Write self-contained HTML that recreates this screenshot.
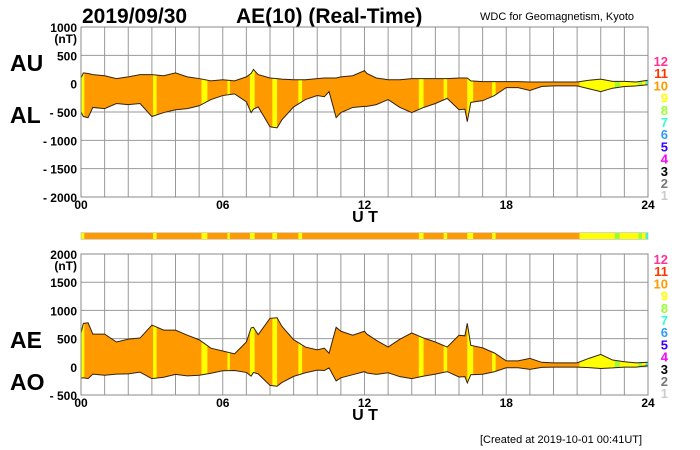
<!DOCTYPE html>
<html><head><meta charset="utf-8"><style>
html,body{margin:0;padding:0;background:#fff}
svg{display:block;font-family:"Liberation Sans",sans-serif}
.b{font-weight:bold}
</style></head><body>
<svg id="c" width="700" height="450" viewBox="0 0 700 450">
<text x="82" y="23" class="b" font-size="21">2019/09/30</text>
<text x="236" y="23" class="b" font-size="21">AE(10) (Real-Time)</text>
<text x="480" y="20" font-size="11">WDC for Geomagnetism, Kyoto</text>
<text x="10" y="71" class="b" font-size="23">AU</text>
<text x="10" y="123" class="b" font-size="23">AL</text>
<text x="10" y="348" class="b" font-size="23">AE</text>
<text x="10" y="390" class="b" font-size="23">AO</text>
<text x="480" y="443" font-size="11">[Created at 2019-10-01 00:41UT]</text>
<g id="g"></g>
</svg>
<script>
const T=[0,0.1,0.3,0.5,1,1.5,2,2.5,3,3.5,4,4.5,5,5.5,6,6.5,7,7.2,7.3,7.5,8,8.3,8.5,9,9.5,10,10.3,10.5,10.8,11,11.5,12,12.1,12.5,13,13.5,14,14.5,15,15.5,16,16.25,16.35,16.5,17,17.5,18,18.5,19,19.5,20,20.5,21,21.5,22,22.5,23,23.5,24];
const AU=[100,190,180,160,140,90,120,160,160,140,190,120,90,50,70,50,120,180,250,160,100,90,80,70,70,90,100,100,100,120,140,230,180,100,70,70,90,90,90,90,100,100,100,50,35,35,35,35,30,30,30,30,30,60,80,40,40,30,60];
const AL=[-500,-580,-600,-420,-440,-350,-370,-350,-580,-510,-460,-440,-390,-280,-210,-180,-320,-510,-450,-410,-760,-780,-640,-410,-280,-210,-230,-140,-600,-510,-420,-400,-400,-370,-280,-420,-510,-420,-350,-260,-460,-450,-670,-330,-300,-210,-70,-70,-120,-50,-40,-40,-40,-90,-140,-80,-50,-40,-20];
const SEG_START=[0,0,3.05,5.1,6.2,7.15,8.1,9.2,14.3,15.35,16.35,17.4,21.1,22.6,22.8,23.6,23.75,23.9];
const SEG_END=[24,0.14,3.2,5.35,6.3,7.35,8.3,9.36,14.5,15.5,16.6,17.55,22.6,22.8,23.6,23.75,23.9,24];
const SEG_N=[10,9,9,9,9,9,9,9,9,9,9,9,9,8,9,8,9,7];
const COL={12:"#ff3399",11:"#ff3300",10:"#ff9900",9:"#ffff00",8:"#99ff33",7:"#33ffcc",6:"#3399ff",5:"#3300ff",4:"#ff00ff",3:"#000000",2:"#777777",1:"#cccccc"};
const XT=["00","06","12","18","24"];
const NS="http://www.w3.org/2000/svg";
const g=document.getElementById('g');
const X0=81,X1=648;
const xs=h=>X0+(X1-X0)*h/24;
function mk(t,a,txt){const e=document.createElementNS(NS,t);for(const k in a)e.setAttribute(k,a[k]);if(txt!=null)e.textContent=txt;g.appendChild(e);return e;}
const AE=AU.map((u,i)=>u-AL[i]);
const AO=AU.map((u,i)=>(u+AL[i])/2);
function panel(id,top,bot,vmax,vmin,ticks,up,lo,barY){
  const ys=v=>top+(vmax-v)*(bot-top)/(vmax-vmin);
  for(let h=0;h<=24;h++){const l=mk('line',{x1:xs(h),x2:xs(h),y1:top,y2:bot,stroke:'#999','stroke-width':1});
    }
  ticks.forEach(v=>{const l=mk('line',{x1:X0,x2:X1,y1:ys(v),y2:ys(v),stroke:'#999','stroke-width':1});
    
    const lab=v<0?'- '+(-v):String(v);
    const t=mk('text',{x:77,y:ys(v)+5,'text-anchor':'end','font-size':12,'font-weight':'bold'},lab);
    });
  const u=mk('text',{x:77,y:ys(vmax)+16,'text-anchor':'end','font-size':12,'font-weight':'bold'},'(nT)');
  
  let d='M'+T.map((h,i)=>xs(h)+','+ys(up[i])).join('L');
  for(let i=T.length-1;i>=0;i--)d+='L'+xs(T[i])+','+ys(lo[i]);d+='Z';
  const cp=mk('clipPath',{id:id});const pp=document.createElementNS(NS,'path');pp.setAttribute('d',d);cp.appendChild(pp);
  SEG_N.forEach((n,i)=>{const r=mk('rect',{x:xs(SEG_START[i]),y:top,width:xs(SEG_END[i])-xs(SEG_START[i]),height:bot-top,fill:COL[n],'clip-path':'url(#'+id+')'});
    });
  [up,lo].forEach(arr=>{const p=mk('polyline',{points:T.map((h,i)=>xs(h)+','+ys(arr[i])).join(' '),fill:'none',stroke:'#332211','stroke-width':1});
    });
  const fr=mk('rect',{x:X0,y:top,width:X1-X0,height:bot-top,fill:'none',stroke:'#888'});
  
  XT.forEach((s,i)=>{const t=mk('text',{x:xs(i*6),y:bot+12,'text-anchor':'middle','font-size':12,'font-weight':'bold'},s);
    });
  const ut=mk('text',{x:365,y:bot+25,'text-anchor':'middle','font-size':16,'font-weight':'bold'},'U T');
  
  const ly=barY?259:61;
  for(let n=12;n>=1;n--){const t=mk('text',{x:668,y:ly+(12-n)*12.2+5,'text-anchor':'end','font-size':13,'font-weight':'bold',fill:COL[n]},String(n));
    }
}
panel('c1',27,197,1000,-2000,[1000,500,0,-500,-1000,-1500,-2000],AU,AL,false);
panel('c2',254,395,2000,-500,[2000,1500,1000,500,0,-500],AE,AO,true);
SEG_N.forEach((n,i)=>{const r=mk('rect',{x:xs(SEG_START[i]),y:233,width:xs(SEG_END[i])-xs(SEG_START[i]),height:6,fill:COL[n]});
  });
const bf=mk('rect',{x:X0,y:232.5,width:X1-X0,height:7,fill:'none',stroke:'#aaa','stroke-width':0.5});

</script>
</body></html>
